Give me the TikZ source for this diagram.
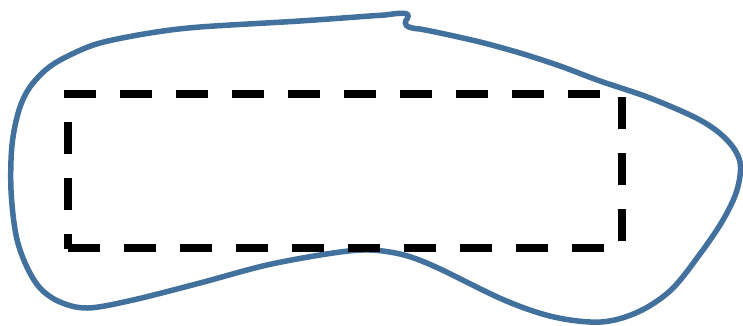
\documentclass[tikz,border=0pt]{standalone}
\definecolor{outlineblue}{RGB}{65,113,156}
\tikzset{
  blob/.style={draw=outlineblue, line width=5.5pt, line join=round, line cap=round},
  dashside/.style={draw=black, line width=8pt, line cap=butt, dash pattern=on 32pt off 24pt}
}
\begin{document}
\begin{tikzpicture}[x=1pt,y=-1pt]
\useasboundingbox (0,0) rectangle (743,325);
% blue freeform outline
\draw[blob] plot[smooth, tension=0.55] coordinates {
 (420,29) (440,33) (480,42) (520,53) (560,66) (600,81) (650,98) (700,120)
 (727,140) (740,162) (737,190) (723,220) (700,254) (671,290) (638,312)
 (601,322) (554,317) (504,300) (438,268) (404,255) (370,250) (333,253)
 (267,265) (200,283) (133,300) (88,308) (60,302) (40,288) (26,265)
 (16,235) (11,190) (12,145) (19,110) (30,87) (48,68) (70,55) (100,43)
 (150,33) (200,27) (300,21) (370,16) (385,15)}
 .. controls (400,13) and (412,11) .. (407,19)
 .. controls (403,24) and (405,28) .. (420,29);
% dashed rectangle
\coordinate (tl) at (64,94);
\coordinate (tr) at (621,94);
\coordinate (rt) at (621.5,97);
\coordinate (rb) at (621.5,249);
\coordinate (bl) at (68,247.5);
\coordinate (br) at (625,247.5);
\coordinate (lb) at (68,249);
\coordinate (lt) at (68,90);
\draw[dashside] (tl) -- (tr);
\draw[dashside] (rt) -- (rb);
\draw[dashside] (bl) -- (br);
\draw[dashside, dash phase=17pt] (lb) -- (lt);
\end{tikzpicture}
\end{document}
